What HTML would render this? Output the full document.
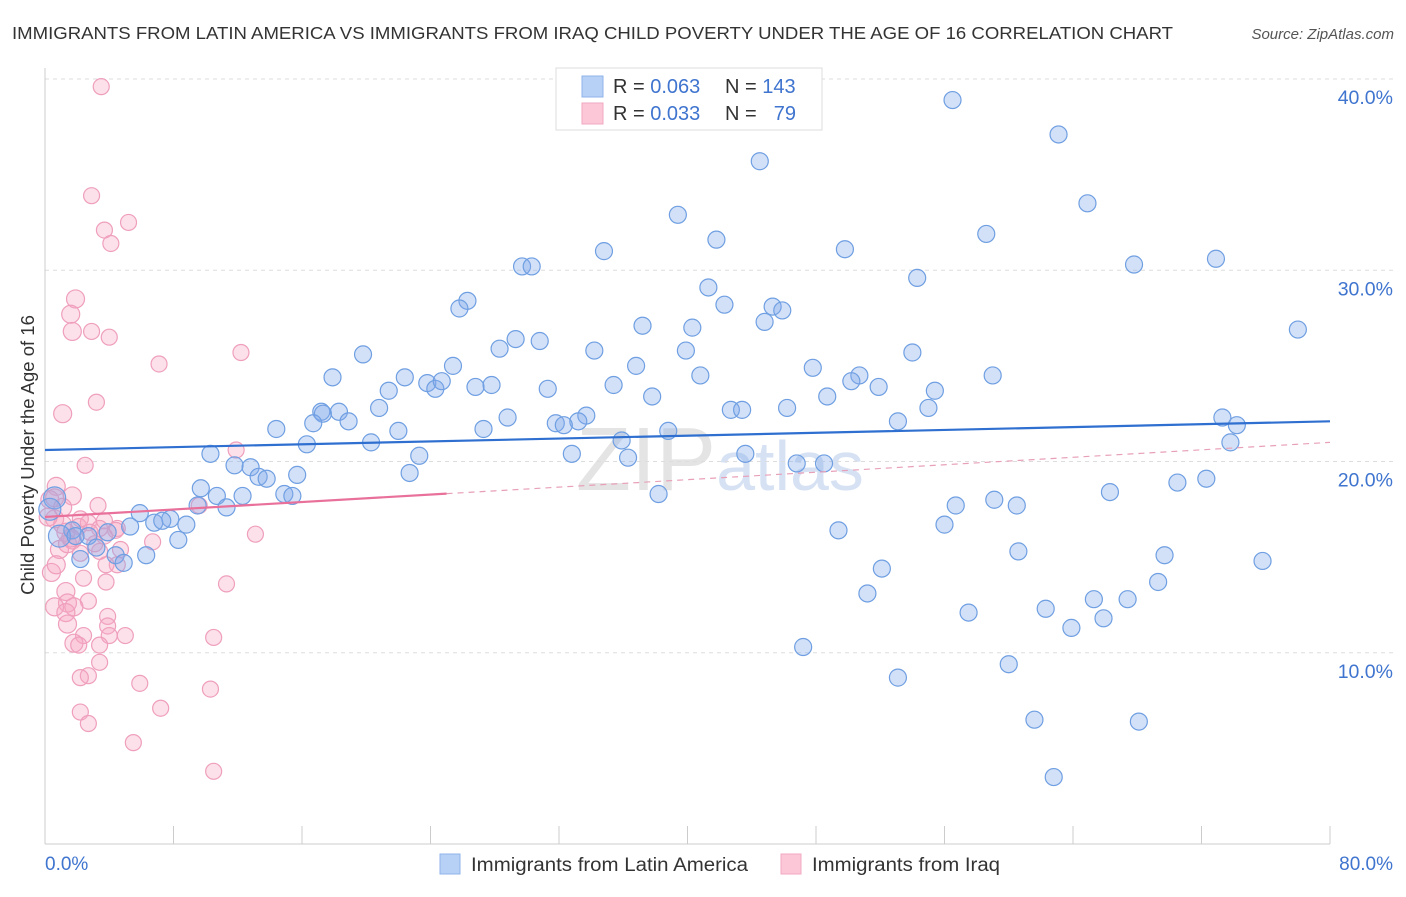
<!DOCTYPE html>
<html><head><meta charset="utf-8"><style>
body{margin:0;background:#fff;font-family:"Liberation Sans",sans-serif;}
svg text{font-family:"Liberation Sans",sans-serif;}
</style></head><body>
<svg id="chart" width="1406" height="892" viewBox="0 0 1406 892" xmlns="http://www.w3.org/2000/svg">
<text x="12" y="39" font-size="17.5" fill="#333" textLength="1161" lengthAdjust="spacingAndGlyphs">IMMIGRANTS FROM LATIN AMERICA VS IMMIGRANTS FROM IRAQ CHILD POVERTY UNDER THE AGE OF 16 CORRELATION CHART</text>
<text x="1394" y="39" font-size="15" fill="#555" font-style="italic" text-anchor="end">Source: ZipAtlas.com</text>
<text x="720" y="490" font-size="90" fill="#e4e4e4" text-anchor="middle" font-family="Liberation Serif">ZIP<tspan fill="#d6e2f4" font-family="Liberation Sans" font-size="70">atlas</tspan></text>
<g id="grid"></g>
<g id="axes"></g>
<g id="points"></g>
<g id="lines"></g>
<text transform="translate(34,455) rotate(-90)" font-size="18.5" fill="#333" text-anchor="middle">Child Poverty Under the Age of 16</text>
<text x="45" y="870" font-size="19" fill="#3f74cf">0.0%</text>
<text x="1393" y="870" font-size="19" fill="#3f74cf" text-anchor="end">80.0%</text>
<g>
<rect x="556" y="68" width="266" height="62" fill="#fff" stroke="#ddd"/>
<rect x="582" y="76" width="21" height="21" fill="#b7d0f5" stroke="#8fb3ea"/>
<rect x="582" y="103" width="21" height="21" fill="#fcc8d8" stroke="#f0a8c0"/>
<text x="613" y="93" font-size="20" fill="#333">R = <tspan fill="#3f74cf">0.063</tspan></text>
<text x="725" y="93" font-size="20" fill="#333">N = <tspan fill="#3f74cf">143</tspan></text>
<text x="613" y="120" font-size="20" fill="#333">R = <tspan fill="#3f74cf">0.033</tspan></text>
<text x="725" y="120" font-size="20" fill="#333">N = </text>
<text x="796" y="120" font-size="20" fill="#3f74cf" text-anchor="end">79</text>
</g>
<g>
<rect x="440" y="854" width="20" height="20" fill="#b7d0f5" stroke="#8fb3ea"/>
<text x="471" y="871" font-size="19" fill="#333" textLength="277" lengthAdjust="spacingAndGlyphs">Immigrants from Latin America</text>
<rect x="781" y="854" width="20" height="20" fill="#fcc8d8" stroke="#f0a8c0"/>
<text x="812" y="871" font-size="19" fill="#333" textLength="188" lengthAdjust="spacingAndGlyphs">Immigrants from Iraq</text>
</g>
</svg>
<script>
const yTicks=[10,20,30,40];
const yTickLabels=["10.0%","20.0%","30.0%","40.0%"];
const xTicks=[0,10,20,30,40,50,60,70,80];
const blueX=[56.5,63.1,44.5,39.4,64.9,41.8,34.8,49.8,58.6,67.8,72.9,29.7,30.3,54.3,41.3,26.3,25.8,42.3,45.3,45.9,44.8,37.2,40.3,78.0,29.3,30.8,28.3,34.2,39.9,19.8,54.0,36.8,47.8,17.9,22.4,40.8,50.7,25.4,23.8,24.3,24.7,27.8,26.8,35.4,31.3,21.4,50.2,51.9,55.4,59.0,48.7,37.8,17.2,20.8,28.8,42.7,43.4,46.2,55.0,17.3,18.3,18.9,16.7,22.0,27.3,31.8,33.7,33.2,32.3,14.4,20.3,16.3,35.9,38.8,73.3,74.2,73.8,53.1,10.3,23.3,32.8,36.3,43.6,46.8,48.5,12.8,11.8,22.7,15.7,13.3,13.8,14.9,15.4,9.7,10.7,12.3,9.5,11.3,38.2,66.3,70.5,72.3,56.7,59.1,60.5,56.0,49.4,5.9,7.8,8.8,6.8,7.3,5.3,3.9,1.7,0.9,2.7,1.9,8.3,3.2,4.4,6.3,2.2,4.9,60.6,69.7,75.8,52.1,69.3,51.2,65.3,67.4,57.5,62.3,65.9,63.9,47.2,60.0,53.1,61.6,68.1,62.8,0.6,0.3];
const blueY=[38.9,37.1,35.7,32.9,33.5,31.6,31.0,31.1,31.9,30.3,30.6,30.2,30.2,29.6,29.1,28.4,28.0,28.2,28.1,27.9,27.3,27.1,27.0,26.9,26.4,26.3,25.9,25.8,25.8,25.6,25.7,25.0,24.9,24.4,24.4,24.5,24.5,25.0,24.1,23.8,24.2,24.0,23.9,24.0,23.8,23.7,24.2,23.9,23.7,24.5,23.4,23.4,22.6,22.8,22.3,22.7,22.7,22.8,22.8,22.5,22.6,22.1,22.0,21.6,21.7,22.0,22.4,22.1,21.9,21.7,21.0,20.9,21.1,21.6,22.3,21.9,21.0,22.1,20.4,20.3,20.4,20.2,20.4,19.9,19.9,19.7,19.8,19.4,19.3,19.2,19.1,18.3,18.2,18.6,18.2,18.2,17.7,17.6,18.3,18.4,18.9,19.1,17.7,18.0,17.7,16.7,16.4,17.3,17.0,16.7,16.8,16.9,16.6,16.3,16.4,16.1,16.1,16.1,15.9,15.5,15.1,15.1,14.9,14.7,15.3,15.1,14.8,14.4,13.7,13.1,12.8,12.8,12.1,12.3,11.8,11.3,10.3,9.4,8.7,6.5,6.4,3.5,18.1,17.5];
const pinkX=[3.5,2.9,5.2,3.7,4.1,1.9,1.6,1.7,2.9,4.0,12.2,7.1,3.2,1.1,11.9,2.5,0.7,1.7,3.3,0.6,0.3,0.6,1.1,2.1,3.7,2.7,4.5,3.7,4.4,1.3,1.7,0.9,1.4,4.7,2.2,6.7,13.1,9.6,0.4,2.4,0.7,1.3,3.8,11.3,1.4,2.7,1.8,0.6,1.3,3.9,1.4,3.9,2.4,4.0,5.0,3.4,10.5,1.8,2.1,3.4,2.7,2.2,5.9,10.3,2.2,7.2,2.7,5.5,10.5,3.4,4.5,1.1,0.2,2.2,3.1,1.6,3.4,3.8,2.8];
const pinkY=[39.6,33.9,32.5,32.1,31.4,28.5,27.7,26.8,26.8,26.5,25.7,25.1,23.1,22.5,20.6,19.8,18.7,18.2,17.7,18.1,18.0,17.0,16.7,16.6,16.9,16.8,16.5,16.1,16.4,16.3,15.9,15.4,15.7,15.4,15.2,15.8,16.2,17.7,14.2,13.9,14.6,13.2,13.7,13.6,12.6,12.7,12.4,12.4,12.1,11.9,11.5,11.4,10.9,10.9,10.9,10.4,10.8,10.5,10.4,9.5,8.8,8.7,8.4,8.1,6.9,7.1,6.3,5.3,3.8,15.3,14.6,17.6,17.1,17.0,15.7,16.0,16.5,14.6,16.3];
const blueTrend=[20.6,22.1];
const pinkTrend=[17.1,21.0];

const NS="http://www.w3.org/2000/svg";
const X0=45,X1=1330,Y0=844,YT=79;
const sx=v=>X0+(v/80)*(X1-X0);
const sy=v=>Y0-(v/40)*(Y0-YT);
function mk(tag,attrs,parent){const e=document.createElementNS(NS,tag);for(const k in attrs)e.setAttribute(k,attrs[k]);parent.appendChild(e);return e;}
const grid=document.getElementById('grid'),axes=document.getElementById('axes'),lines=document.getElementById('lines'),pts=document.getElementById('points');
yTicks.forEach((t,i)=>{
  const l=mk('line',{x1:X0,x2:1393,y1:sy(t),y2:sy(t),stroke:'#ddd','stroke-dasharray':'4,4'},grid);
  
  
  const tx=mk('text',{x:1393,y:sy(t)+25,'font-size':19.5,fill:'#3f74cf','text-anchor':'end'},grid);
  tx.textContent=yTickLabels[i];
  
  
});
const ya=mk('line',{x1:X0,x2:X0,y1:68,y2:Y0,stroke:'#ccc'},axes);


const xa=mk('line',{x1:X0,x2:X1,y1:Y0,y2:Y0,stroke:'#ccc'},axes);


for(let v=0;v<=80;v+=8){
  const t=mk('line',{x1:sx(v),x2:sx(v),y1:826,y2:Y0,stroke:'#ccc'},axes);
  
  
}
function dot(x,y,fill,stroke,name,r){
  const c=mk('circle',{cx:sx(x),cy:sy(y),r:r,fill:fill,stroke:stroke,'stroke-width':1.2},pts);
  
  
}
pinkX.forEach((x,i)=>dot(x,pinkY[i],'rgba(246,165,195,0.35)','#ef9fbc','iraq-point',x<2?9:8));
blueX.forEach((x,i)=>dot(x,blueY[i],'rgba(130,170,235,0.35)','#6f9fe2','latin-america-point',x<1?11:8.5));
const bt=mk('line',{x1:sx(0),x2:sx(80),y1:sy(blueTrend[0]),y2:sy(blueTrend[1]),stroke:'#2f6fd0','stroke-width':2.2},lines);


const pm=25,pmY=pinkTrend[0]+(pinkTrend[1]-pinkTrend[0])*pm/80;
const pt=mk('line',{x1:sx(0),x2:sx(pm),y1:sy(pinkTrend[0]),y2:sy(pmY),stroke:'#e8709a','stroke-width':2.2},lines);


const pd=mk('line',{x1:sx(pm),x2:sx(80),y1:sy(pmY),y2:sy(pinkTrend[1]),stroke:'#e8a0b8','stroke-width':1.2,'stroke-dasharray':'6,5'},lines);


</script>
</body></html>
